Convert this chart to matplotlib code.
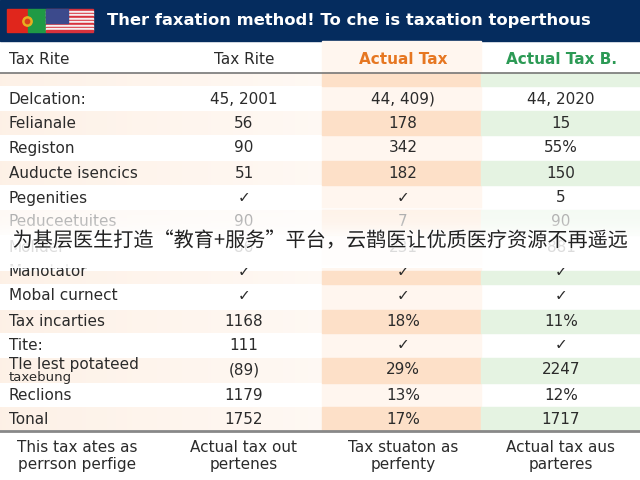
import matplotlib
matplotlib.use("Agg")
import matplotlib.pyplot as plt
from matplotlib.patches import Rectangle
import matplotlib.patheffects as pe
import numpy as np

title = "Ther faxation method! To che is taxation toperthous"
headers = ["Tax Rite", "Tax Rite", "Actual Tax", "Actual Tax B."]
row_labels = ["Delcation:", "Felianale", "Registon", "Auducte isencics", "Pegenities",
              "Peduceetuites", "Molider", "Manotator", "Mobal curnect", "Tax incarties",
              "Tite:", "Tle lest potateed", "Reclions", "Tonal"]
tax_rite = ["45, 2001", "56", "90", "51", "\u2713", "90", "86", "\u2713", "\u2713",
            "1168", "111", "(89)", "1179", "1752"]
actual_tax = ["44, 409)", "178", "342", "182", "\u2713", "7", "231", "\u2713", "\u2713",
              "18%", "\u2713", "29%", "13%", "17%"]
actual_b = ["44, 2020", "15", "55%", "150", "5", "90", "881", "\u2713", "\u2713",
            "11%", "\u2713", "2247", "12%", "1717"]
foot_1 = ["This tax ates as", "Actual tax out", "Tax stuaton as", "Actual tax aus"]
foot_2 = ["perrson perfige", "pertenes", "perfenty", "parteres"]
caption = "为基层医生打造\u201c教育+服务\u201d平台，云鹊医让优质医疗资源不再遥远"

row_y = [99, 124, 148, 173, 198, 222, 247, 272, 296, 321, 345, 370, 395, 419]
tinted = [(73, 86), (111, 135), (161, 185), (210, 235), (271, 284), (310, 333), (358, 383), (407, 430)]
col_x = [244, 403, 561]
text_c = "#2b2b2b"
fs = 11

fig = plt.figure(figsize=(6.4, 4.8), dpi=100)
ax = fig.add_axes([0, 0, 1, 1])
ax.set_xlim(0, 640)
ax.set_ylim(480, 0)
ax.axis("off")

# header bar
ax.add_patch(Rectangle((0, 0), 640, 41, color="#052c5e", zorder=1))

# pale column tint behind everything
ax.add_patch(Rectangle((322, 41), 159, 389, color="#fff6ef", zorder=1))

# row bands
fade = np.linspace(0, 1, 256).reshape(1, -1)
for top, bottom in tinted:
    c0 = np.array([0.995, 0.945, 0.905])
    c1 = np.array([0.998, 0.975, 0.955])
    grad = c0 + (c1 - c0) * fade[..., None]
    ax.imshow(grad, extent=(0, 322, bottom, top), aspect="auto", zorder=2)
    ax.add_patch(Rectangle((322, top), 159, bottom - top, color="#fde0c8", zorder=2))
    ax.add_patch(Rectangle((481, top), 159, bottom - top, color="#e5f3e2", zorder=2))
ax.set_xlim(0, 640)
ax.set_ylim(480, 0)

# rules
ax.plot([0, 640], [73, 73], color="#777777", lw=1.2, zorder=3)
ax.plot([0, 640], [431, 431], color="#888888", lw=2, zorder=3)

# flags
ax.add_patch(Rectangle((7, 9), 21, 23, color="#e0261c", zorder=3))
ax.add_patch(Rectangle((28, 9), 18, 23, color="#1f9a45", zorder=3))
ax.scatter([27], [21], s=45, color="#e8b020", zorder=4)
ax.scatter([27], [21], s=10, color="#d8401c", zorder=5)
for i in range(7):
    y = 9 + i * 23 / 6.5
    ax.add_patch(Rectangle((46, y), 47, 23 / 13, color="#d8323c", zorder=3))
    if i < 6:
        ax.add_patch(Rectangle((46, y + 23 / 13), 47, 23 / 13, color="#f5f0f0", zorder=3))
ax.add_patch(Rectangle((46, 9), 22, 14, color="#3c4a8c", zorder=4))

ax.text(107, 21, title, color="white", fontsize=11.8, fontweight="bold", va="center", zorder=5)

# column headings
ax.text(9, 60, headers[0], color=text_c, fontsize=fs, va="center", zorder=5)
ax.text(col_x[0], 60, headers[1], color=text_c, fontsize=fs, ha="center", va="center", zorder=5)
ax.text(col_x[1], 60, headers[2], color="#e67722", fontsize=fs, fontweight="bold", ha="center", va="center", zorder=5)
ax.text(col_x[2], 60, headers[3], color="#2c9a55", fontsize=fs, fontweight="bold", ha="center", va="center", zorder=5)

# table body
for i, y in enumerate(row_y):
    if row_labels[i] == "Tle lest potateed":
        ax.text(9, y - 5, row_labels[i], color=text_c, fontsize=fs, va="center", zorder=5)
        ax.text(9, y + 7, "taxebung", color=text_c, fontsize=9.5, va="center", zorder=5)
    else:
        ax.text(9, y, row_labels[i], color=text_c, fontsize=fs, va="center", zorder=5)
    ax.text(col_x[0], y, tax_rite[i], color=text_c, fontsize=fs, ha="center", va="center", zorder=5)
    ax.text(col_x[1], y, actual_tax[i], color=text_c, fontsize=fs, ha="center", va="center", zorder=5)
    ax.text(col_x[2], y, actual_b[i], color=text_c, fontsize=fs, ha="center", va="center", zorder=5)

# footer notes
foot_x = [77, 244, 403, 561]
for i in range(4):
    ax.text(foot_x[i], 447, foot_1[i], color=text_c, fontsize=fs, ha="center", va="center", zorder=5)
    ax.text(foot_x[i], 465, foot_2[i], color=text_c, fontsize=fs, ha="center", va="center", zorder=5)

# subtitle strip laid over the table, soft at the top, hard at the bottom
alpha = np.interp(np.arange(208, 268), [208, 222, 234, 258, 264, 267], [0.6, 0.68, 0.88, 0.82, 0.85, 1.0])
strip = np.ones((len(alpha), 1, 4))
strip[:, 0, 3] = alpha
ax.imshow(strip, extent=(0, 640, 268, 208), aspect="auto", zorder=6)
ax.set_xlim(0, 640)
ax.set_ylim(480, 0)
ax.text(320, 241, caption, color="#222222", fontsize=14.5, ha="center", va="center", zorder=7,
        family=["Noto Sans CJK SC", "DejaVu Sans"],
        path_effects=[pe.withStroke(linewidth=1.2, foreground="white")])

fig.savefig("out.png", dpi=100)
